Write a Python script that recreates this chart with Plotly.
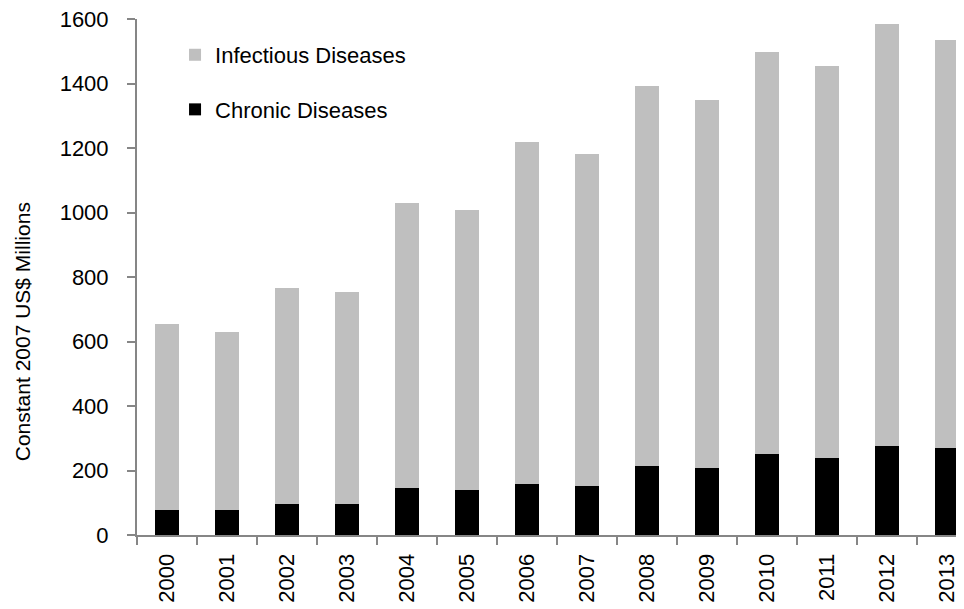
import plotly.graph_objects as go

years = ["2000", "2001", "2002", "2003", "2004", "2005", "2006",
         "2007", "2008", "2009", "2010", "2011", "2012", "2013"]
chronic = [76, 76, 95, 95, 145, 139, 157, 151, 213, 207, 250, 238, 275, 269]
infectious = [577, 552, 670, 657, 886, 868, 1061, 1029, 1178, 1141, 1247, 1215, 1308, 1265]

FONT = "Liberation Sans"
AXIS_COLOR = "#868686"

fig = go.Figure()
fig.add_trace(go.Bar(
    x=years, y=chronic, name="Chronic Diseases",
    marker=dict(color="#000000", line=dict(width=0)),
    width=0.4, legendgroup="c", legendrank=2,
))
fig.add_trace(go.Bar(
    x=years, y=infectious, name="Infectious Diseases",
    marker=dict(color="#BFBFBF", line=dict(width=0)),
    width=0.4, legendgroup="i", legendrank=1,
))

fig.update_layout(
    width=956, height=601,
    barmode="stack",
    plot_bgcolor="white", paper_bgcolor="white",
    margin=dict(l=129, r=0, t=11, b=74, pad=0),
    font=dict(family=FONT, size=22, color="#000000"),
    showlegend=True,
    legend=dict(
        x=0.046, y=0.971, xanchor="left", yanchor="top",
        traceorder="grouped", tracegroupgap=23,
        font=dict(family=FONT, size=22, color="#000000"),
        bgcolor="rgba(0,0,0,0)", itemwidth=30,
    ),
    xaxis=dict(
        type="category", range=[-0.5, 13.28], automargin=False,
        showline=True, linecolor=AXIS_COLOR, linewidth=2,
        ticks="outside", ticklen=8, tickwidth=2, tickcolor=AXIS_COLOR,
        tickson="boundaries", tickangle=-90, ticklabelstandoff=8,
        ticklabeloverflow="allow",
        tickfont=dict(family=FONT, size=22),
        showgrid=False, zeroline=False,
    ),
    yaxis=dict(
        range=[0, 1600], dtick=200, tick0=0, automargin=False,
        showline=True, linecolor=AXIS_COLOR, linewidth=2,
        ticks="outside", ticklen=8, tickwidth=2, tickcolor=AXIS_COLOR,
        ticklabelstandoff=14, ticklabeloverflow="allow",
        tickfont=dict(family=FONT, size=22),
        showgrid=False, zeroline=False,
    ),
    annotations=[dict(
        text="Constant 2007 US$ Millions", textangle=-90,
        xref="paper", yref="paper", x=-0.139, y=0.393,
        xanchor="center", yanchor="middle", showarrow=False,
        font=dict(family=FONT, size=21, color="#000000"),
    )],
)

fig.write_html("out.html")
